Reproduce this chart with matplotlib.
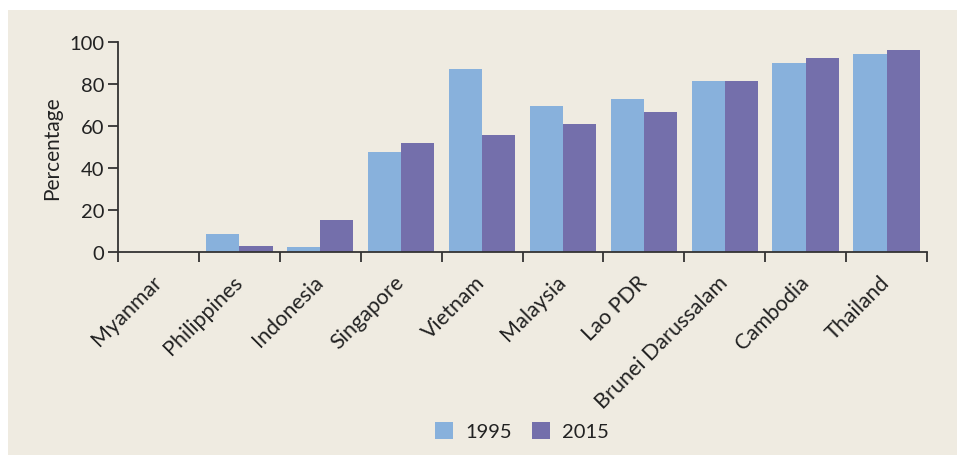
import numpy as np
import matplotlib
matplotlib.use("Agg")
import matplotlib.pyplot as plt
from matplotlib.patches import Rectangle

countries = ["Myanmar", "Philippines", "Indonesia", "Singapore", "Vietnam",
             "Malaysia", "Lao PDR", "Brunei Darussalam", "Cambodia", "Thailand"]
share_1995 = [0, 8.7, 2.5, 47.6, 87.0, 69.5, 72.8, 81.3, 89.9, 94.2]
share_2015 = [0, 3.0, 15.3, 51.9, 55.7, 60.9, 66.6, 81.3, 92.3, 96.1]
years = ["1995", "2015"]

bg = "#efebe1"
c1995 = "#88b1dc"
c2015 = "#746fab"
axis_col = "#333333"

plt.rcParams["font.family"] = ["Lato", "DejaVu Sans"]

fig = plt.figure(figsize=(9.57, 4.56), dpi=100)
fig.patch.set_facecolor("white")
# beige panel behind everything
fig.patches.append(Rectangle((8 / 957, 0), 1, 1 - 11 / 456, transform=fig.transFigure,
                             facecolor=bg, edgecolor="none", zorder=-5))

ax = fig.add_axes([118 / 957, 1 - 253.3 / 456, (927 - 118) / 957, (253.3 - 42.7) / 456])
ax.set_facecolor("none")

x = np.arange(len(countries))
w = 0.41
ax.bar(x - w / 2, share_1995, width=w, color=c1995, label=years[0], zorder=2)
ax.bar(x + w / 2, share_2015, width=w, color=c2015, label=years[1], zorder=2)

ax.set_xlim(-0.5, len(countries) - 0.5)
ax.set_ylim(0, 100)
ax.set_yticks([0, 20, 40, 60, 80, 100])

for s in ["top", "right"]:
    ax.spines[s].set_visible(False)
for s in ["left", "bottom"]:
    ax.spines[s].set_color(axis_col)
    ax.spines[s].set_linewidth(1.3)

ax.set_xticks(np.arange(len(countries) + 1) - 0.5)
ax.set_xticklabels([])
ax.tick_params(axis="x", length=7, width=1.3, color=axis_col, direction="out")
ax.tick_params(axis="y", length=7, width=1.3, color=axis_col, direction="out",
               labelsize=14.5, labelcolor="#222222", pad=3)

for i, name in enumerate(countries):
    ax.text(i + 0.0, -12.5, name, rotation=45, ha="right", va="center",
            rotation_mode="anchor", fontsize=15.5, color="#222222",
            transform=ax.transData, clip_on=False)

ax.set_ylabel("Percentage", fontsize=15, color="#222222", labelpad=5)

leg = fig.legend(loc="center", bbox_to_anchor=(522 / 957, 1 - 432 / 456), ncol=2,
                 frameon=False, fontsize=14.5, handlelength=0.9, handleheight=0.9,
                 handletextpad=0.6, columnspacing=1.0)
for t in leg.get_texts():
    t.set_color("#222222")

fig.savefig("out.png", dpi=100, facecolor=fig.get_facecolor())
